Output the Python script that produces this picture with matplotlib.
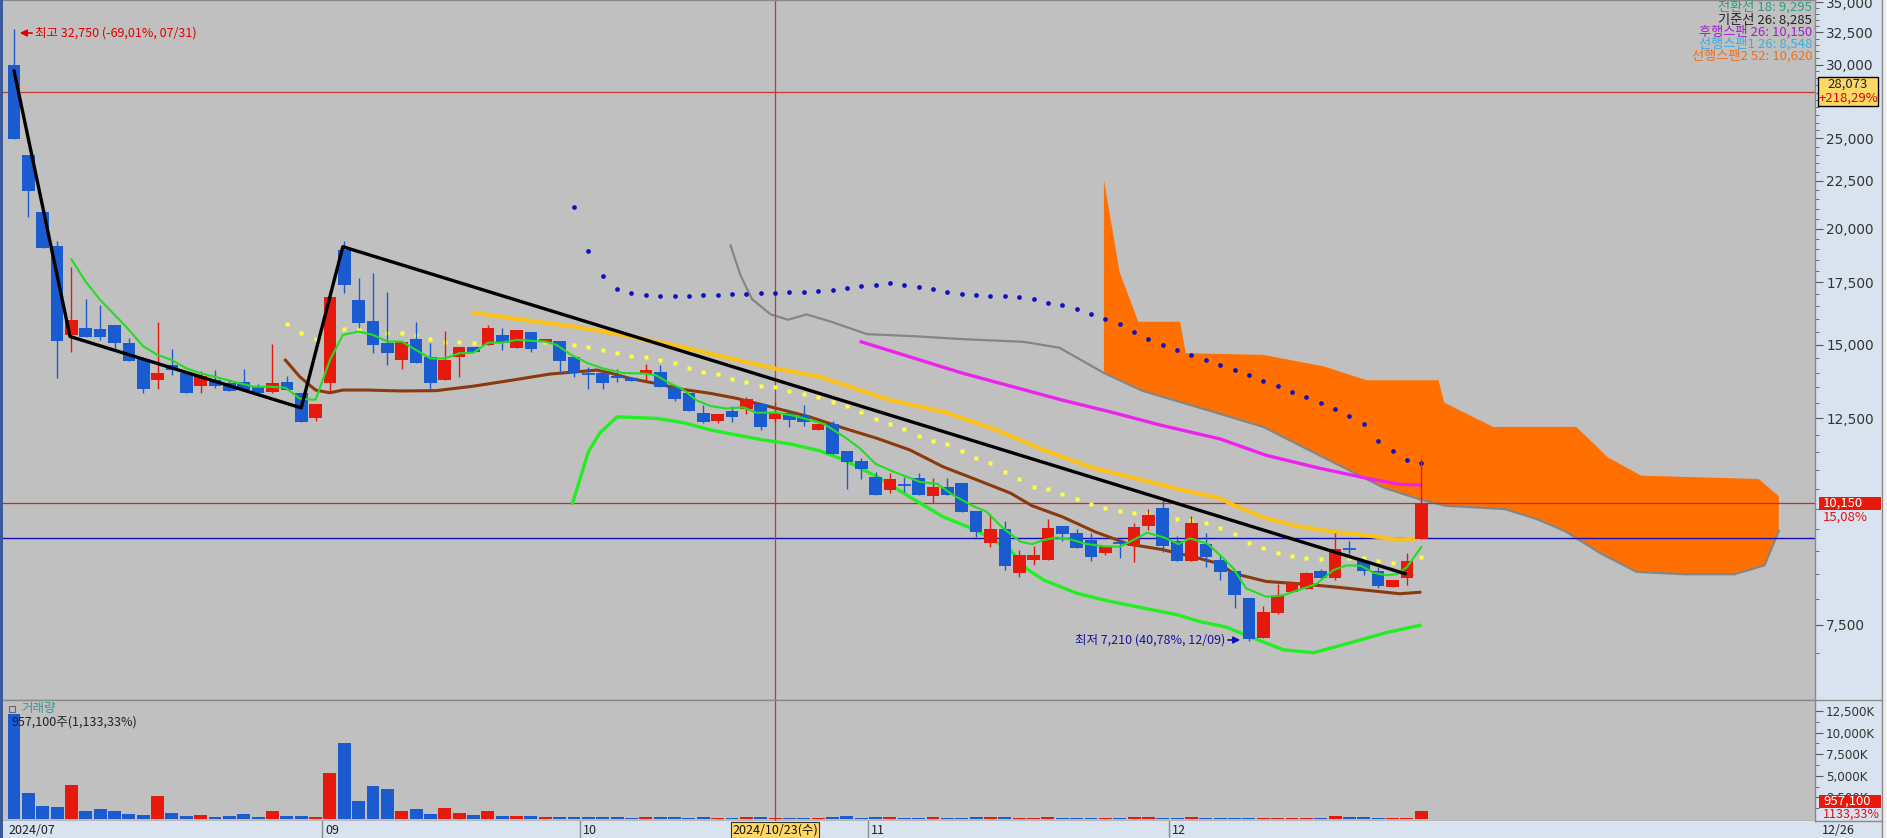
import matplotlib
matplotlib.use('Agg')
import matplotlib.pyplot as plt
from matplotlib.ticker import FixedLocator, FuncFormatter, NullFormatter
from matplotlib.patches import Rectangle
import numpy as np

plt.rcParams['font.family'] = ['Noto Sans CJK KR', 'DejaVu Sans']

# ---------------- data (daily candles 2024/07/31 .. 2024/12/26) ----------------
opens = [29970, 23990, 20840, 19150, 15370, 15630, 15600, 15750, 15070, 14480,
         13740, 14270, 13980, 13550, 13740, 13640, 13680, 13560, 13350, 13690,
         13300, 12520, 13630, 18960, 16760, 15910, 15070, 14450, 15200, 14540,
         13740, 14540, 14930, 14990, 15370, 14870, 15470, 15100, 15140, 14540,
         13950, 13990, 13890, 13820, 13950, 14030, 13500, 13320, 12660, 12430,
         12720, 12790, 12950, 12470, 12660, 12590, 12140, 12340, 11520, 11250,
         10820, 10470, 10610, 10800, 10320, 10550, 10660, 9940, 9190, 9510,
         8530, 8810, 8810, 9570, 9410, 9250, 8950, 9180, 9110, 9570,
         10010, 9220, 8790, 9170, 8810, 8570, 8010, 7260, 7730, 8140,
         8190, 8570, 8430, 9040, 8790, 8570, 8240, 8430, 9280]
highs = [32750, 23990, 20840, 19390, 18200, 16780, 16550, 15750, 15240, 14480,
         15880, 14850, 14050, 14050, 14090, 13740, 14130, 13600, 15030, 13880,
         13300, 12950, 16890, 19370, 17690, 17900, 17100, 15110, 15870, 15050,
         15520, 14930, 14930, 15750, 15630, 15550, 15470, 15210, 15140, 14540,
         14210, 14100, 14140, 13820, 14300, 14270, 13500, 13320, 12910, 12640,
         12880, 13190, 12950, 13010, 12770, 12910, 12340, 12430, 11520, 11330,
         10960, 10930, 10820, 10910, 10800, 10800, 10660, 9940, 9860, 9690,
         9030, 9120, 9750, 9570, 9500, 9410, 9110, 9250, 9640, 9990,
         10210, 9350, 9810, 9410, 8920, 8570, 8010, 7850, 8290, 8340,
         8550, 8620, 9410, 9220, 8790, 8650, 8390, 8960, 11320]
lows = [24960, 20590, 19070, 13810, 14740, 15300, 15170, 14810, 14420, 13320,
        13460, 13920, 13320, 13320, 13480, 13380, 13400, 13300, 13300, 13400,
        12400, 12430, 13300, 17040, 15630, 14680, 14270, 14130, 14350, 13440,
        13740, 13860, 14740, 14990, 14810, 14870, 14720, 15100, 13990, 13850,
        13460, 13460, 13690, 13720, 13740, 13510, 13060, 12740, 12350, 12350,
        12380, 12640, 12140, 12400, 12240, 12270, 12140, 11460, 10490, 10750,
        10330, 10390, 10420, 10350, 10140, 10350, 9920, 9310, 9100, 8600,
        8450, 8690, 8810, 9220, 9080, 8780, 8920, 8860, 8760, 9480,
        8990, 8790, 8790, 8660, 8390, 7810, 7210, 7260, 7700, 8140,
        8190, 8420, 8370, 8850, 8480, 8210, 8240, 8280, 9280]
closes = [24960, 21960, 19070, 15150, 15950, 15300, 15300, 15070, 14420, 13460,
          13990, 14090, 13320, 13880, 13550, 13380, 13400, 13300, 13650, 13400,
          12400, 12950, 16890, 17390, 15820, 14990, 14700, 15110, 14350, 13660,
          14450, 14930, 14740, 15650, 15050, 15550, 14830, 15210, 14420, 13990,
          13910, 13660, 13830, 13720, 14090, 13510, 13110, 12740, 12400, 12640,
          12530, 13100, 12240, 12660, 12450, 12400, 12340, 11460, 11230, 11030,
          10330, 10750, 10570, 10350, 10550, 10350, 9920, 9430, 9510, 8680,
          8920, 8920, 9530, 9400, 9080, 8870, 9110, 9160, 9550, 9840,
          9110, 8790, 9640, 8870, 8550, 8070, 7250, 7740, 8050, 8310,
          8530, 8420, 9040, 9020, 8570, 8260, 8390, 8790, 10150]
volumes_k = [12150, 3010, 1500, 1390, 3940, 930, 1160, 930, 580, 460,
             2660, 690, 350, 460, 230, 350, 580, 230, 930, 350,
             350, 230, 5320, 8800, 2080, 3820, 3470, 930, 1160, 580,
             1270, 690, 460, 930, 350, 350, 350, 230, 230, 230,
             230, 230, 230, 115, 230, 230, 230, 115, 230, 115,
             115, 230, 230, 115, 115, 115, 115, 230, 350, 115,
             230, 230, 80, 80, 190, 80, 80, 190, 190, 190,
             80, 80, 190, 80, 80, 80, 80, 80, 190, 190,
             150, 80, 190, 150, 150, 150, 80, 80, 80, 80,
             80, 80, 350, 190, 190, 80, 110, 160, 957]

# short moving average (green, thin)
ma5_x = [4, 5, 6, 7.8, 9, 10, 11, 12, 13, 15.3, 16.7, 17.8, 18.9, 19.9, 21, 22, 22.9, 24, 25, 26,
         27, 29, 30, 31, 32, 33, 34, 35, 36, 37, 37.8, 38.8, 40, 41, 42.4, 43.8, 44.7, 45.7, 46.6, 47.5,
         48.5, 49.6, 50.8, 51.7, 53.1, 54.5, 55.4, 56.4, 57.8, 58.9, 60, 61.1, 63.1, 64.3, 65.4, 66.8, 67.7, 68.9, 70.1, 70.9,
         71.7, 72.6, 73.5, 74.7, 75.9, 77, 77.7, 78.9, 80.1, 81.1, 81.9, 83.1, 84, 84.9, 85.8, 87.2, 88.4, 89.6, 90.7, 91.9,
         92.8, 93.8, 94.7, 95.6, 96.3, 97, 98]
ma5_v = [18530, 17530, 16760, 15690, 14940, 14630, 14440, 14150, 13980, 13690, 13520, 13520, 13490, 13130, 13090, 14440, 15370, 15500, 15370, 15120,
         15120, 14500, 14500, 14690, 14710, 15080, 15080, 15180, 15150, 15120, 14990, 14630, 14320, 14150, 13990, 13970, 13910, 13630, 13430, 13080,
         12890, 12810, 12850, 12680, 12680, 12570, 12450, 12330, 11950, 11610, 11170, 10980, 10680, 10630, 10340, 10060, 9930, 9520, 9210, 9160,
         9250, 9310, 9270, 9160, 9110, 9100, 9210, 9420, 9310, 9160, 9290, 9170, 8910, 8630, 8210, 8040, 8070, 8190, 8300, 8590,
         8690, 8680, 8530, 8480, 8500, 8650, 9090]

# 20-day average (brown)
ma20_x = [18.9, 19.9, 21, 22, 22.9, 24.6, 26.9, 29.4, 32, 34.8, 37.3, 39.2, 40.6, 41.5, 42.9, 44.7, 46.6, 48.5, 50.3, 52.2,
          54, 55.4, 57.8, 60.1, 62.4, 64.7, 67.1, 69.4, 70.9, 73, 75.3, 77.6, 79.9, 82.2, 84, 84.9, 87.2, 89.6, 91.9, 94.2,
          96.5, 97.9]
ma20_v = [14440, 13860, 13410, 13320, 13410, 13410, 13380, 13390, 13540, 13750, 13950, 14030, 14090, 13990, 13800, 13630, 13430, 13300, 13140, 12920,
          12710, 12550, 12200, 11900, 11560, 11090, 10730, 10390, 10070, 9800, 9440, 9160, 9040, 8870, 8720, 8520, 8350, 8300, 8240, 8170,
          8100, 8130]

# gold average
ma33_x = [32, 35.5, 39, 42.4, 45.9, 49.4, 52.9, 56.1, 61, 64.7, 68.4, 71.7, 75.2, 78.6, 81, 84, 84.9, 87.2, 89.6, 91.9, 94.2, 96.5, 97.9]
ma33_v = [16240, 15950, 15690, 15370, 14990, 14560, 14150, 13860, 13080, 12710, 12150, 11560, 11050, 10730, 10500, 10260, 10090, 9760, 9560, 9440, 9360, 9250, 9300]

# 60-day average (magenta)
ma60_x = [59, 66, 73, 76.3, 79.8, 84, 87.2, 90.7, 94.2, 96.5, 97.9]
ma60_v = [15110, 13990, 13080, 12710, 12300, 11880, 11410, 11070, 10780, 10620, 10600]

# lower band (bright green, thick)
low_x = [38.9, 40, 40.8, 42, 44.8, 46.6, 48.5, 50.3, 52.2, 54, 56.1, 57.8, 60.1, 62.4, 64.7, 67, 69.4, 70.5, 71.7, 74,
         76.3, 78.6, 81, 82.6, 84.4, 86.1, 88.4, 90.5, 93, 95.6, 97.9]
low_v = [10140, 11510, 12060, 12550, 12500, 12370, 12150, 12000, 11850, 11740, 11540, 11280, 10820, 10290, 9800, 9480, 9020, 8620, 8380, 8110,
         7950, 7820, 7690, 7560, 7460, 7280, 7050, 7000, 7170, 7360, 7490]

# blue dotted line (one dot per session, from 39)
bdot_x = list(range(39, 99))
bdot_v = [21100, 18940, 17800, 17210, 17040, 16960, 16920, 16920, 16920, 16960,
          16960, 17000, 17000, 17040, 17040, 17080, 17080, 17120, 17170, 17250,
          17330, 17410, 17460, 17370, 17290, 17210, 17080, 17000, 16960, 16920,
          16920, 16870, 16820, 16650, 16540, 16380, 16190, 16000, 15780, 15500,
          15230, 15010, 14800, 14620, 14450, 14280, 14100, 13920, 13720, 13550,
          13350, 13190, 12990, 12800, 12580, 12320, 11820, 11520, 11270, 11190]

# yellow dotted line (from 19)
ydot_x = list(range(19, 99))
ydot_v = [15780, 15460, 15220, 15400, 15590, 15590, 15530, 15460, 15460, 15370,
          15210, 15120, 15120, 15080, 15120, 15150, 15150, 15150, 15120, 15080,
          14990, 14910, 14810, 14690, 14590, 14570, 14440, 14350, 14170, 14030,
          13950, 13770, 13690, 13550, 13500, 13390, 13280, 13190, 13030, 12890,
          12710, 12470, 12320, 12170, 11980, 11830, 11730, 11540, 11340, 11190,
          10940, 10750, 10550, 10490, 10380, 10250, 10110, 10020, 9930, 9890,
          9890, 9790, 9740, 9720, 9640, 9540, 9400, 9190, 9060, 8960,
          8900, 8860, 8820, 8840, 8850, 8840, 8790, 8740, 8740, 8870]

# leading span 1 (gray) and leading span 2 (cloud top)
span1_x = [49.9, 50.6, 51.4, 52.7, 53.9, 55.2, 56.9, 59.4, 62.7, 66.1, 70.3, 72.8, 75.9, 78.6, 82.9, 87, 91.2, 95.4, 98,
           99.7, 103.8, 106, 108, 110.5, 113, 116.4, 119.8, 121.9, 122.9]
span1_v = [19180, 17800, 16790, 16170, 15960, 16170, 15880, 15400, 15320, 15210, 15110, 14890, 13990, 13380, 12790, 12240, 11350, 10530, 10220,
           10070, 9990, 9750, 9460, 8950, 8550, 8500, 8500, 8690, 9460]
span2_x = [75.9, 75.9, 77, 78.3, 81.2, 81.6, 87, 91.2, 94.2, 99.2, 99.6, 103, 108.8, 111, 113.3, 121.5, 122.9]
span2_v = [13990, 22560, 17940, 15880, 15880, 14690, 14630, 14220, 13740, 13740, 13000, 12240, 12240, 11350, 10850, 10760, 10310]

# trend lines
trend_x = [0, 3.9, 20, 22.9, 96.9]
trend_v = [29560, 15310, 12830, 19120, 8510]

cross_price = 28073
cur_price = 10150
conv_price = 9295
cross_idx = 53
month_idx = [0, 22, 40, 60, 81]
month_lbl = ['2024/07', '09', '10', '11', '12']
price_ticks = [7500, 12500, 15000, 17500, 20000, 22500, 25000, 30000, 32500, 35000]
vol_ticks = [2500, 5000, 7500, 10000, 12500]

# ---------------- figure ----------------
W, H = 1887, 838
fig = plt.figure(figsize=(W / 100, H / 100), dpi=100)
BG = '#c0c0c0'
AXBG = '#d8e3ef'
fig.patch.set_facecolor(AXBG)
RED = '#e61a0c'
BLUE = '#1a5bd0'
NUMF = 'DejaVu Sans'

def fr(x0, y0, x1, y1):
    return [x0 / W, 1 - y1 / H, (x1 - x0) / W, (y1 - y0) / H]

XL = (-0.766, 125.42)
ax = fig.add_axes(fr(3, 0, 1815, 700))
vax = fig.add_axes(fr(3, 700, 1815, 821))
dax = fig.add_axes(fr(3, 821, 1815, 838))

for a in (ax, vax):
    a.set_facecolor(BG)
    a.set_xlim(*XL)
    for s in a.spines.values():
        s.set_color('#8a8a8a')
        s.set_linewidth(1)
    a.spines['left'].set_visible(False)
    a.tick_params(axis='x', bottom=False, labelbottom=False)

# price panel
ax.set_yscale('log')
ax.set_ylim(6227, 35210)
ax.yaxis.set_major_locator(FixedLocator(price_ticks))
ax.yaxis.set_minor_locator(FixedLocator(list(range(7000, 35001, 500))))
ax.yaxis.set_major_formatter(FuncFormatter(lambda v, p: f'{v:,.0f}'))
ax.yaxis.set_minor_formatter(NullFormatter())
ax.tick_params(axis='y', which='both', left=False, labelleft=False, right=True, labelright=True,
               direction='out', colors='#555555', labelcolor='#333333', labelsize=9.8,
               labelfontfamily=NUMF)
ax.tick_params(axis='y', which='major', length=6, pad=2)
ax.tick_params(axis='y', which='minor', length=3)

# cloud
cx = span2_x + [x for x in span1_x if x >= 75.9][::-1]
cy = span2_v + [v for x, v in zip(span1_x, span1_v) if x >= 75.9][::-1]
ax.fill(cx, cy, color='#ff7000', lw=0, zorder=1)
ax.plot(span1_x, span1_v, color='#858585', lw=1.6, zorder=2)

# reference lines
ax.axhline(cross_price, color='#c03838', lw=0.9, zorder=2)
ax.axhline(cur_price, color='#d02828', lw=0.9, zorder=2)
ax.axhline(conv_price, color='#1010c0', lw=1.0, zorder=2)
ax.axvline(cross_idx, color='#c03838', lw=0.9, zorder=2)
vax.axvline(cross_idx, color='#c03838', lw=0.9, zorder=2)

# indicator lines
ax.plot(ma33_x, ma33_v, color='#f9c11a', lw=3.0, zorder=3, solid_capstyle='round')
ax.plot(ma60_x, ma60_v, color='#ee22ee', lw=2.4, zorder=3)
ax.plot(low_x, low_v, color='#22ee22', lw=2.4, zorder=3)
ax.plot(ma20_x, ma20_v, color='#8b3a0e', lw=2.2, zorder=4)
ax.plot(ydot_x, ydot_v, ls='none', marker='s', ms=2.2, color='#ffff3c', mec='none', zorder=4)
ax.plot(bdot_x, bdot_v, ls='none', marker='o', ms=3.4, color='#1010c0', mec='none', zorder=4)

# candles
idx = np.arange(len(closes))
for i in idx:
    o, h, l, c = opens[i], highs[i], lows[i], closes[i]
    col = RED if c >= o else BLUE
    ax.vlines(i, l, h, color=col, lw=1.0, zorder=5)
    if abs(c - o) / o < 0.004:
        ax.hlines(o, i - 0.44, i + 0.44, color=col, lw=1.3, zorder=5)
    else:
        ax.bar(i, abs(c - o), bottom=min(o, c), width=0.88, color=col, lw=0, zorder=5)

ax.plot(ma5_x, ma5_v, color='#22dd22', lw=1.5, zorder=6)
ax.plot(trend_x, trend_v, color='black', lw=2.4, zorder=7, solid_capstyle='round')

# volume panel
vcols = [RED if closes[i] >= opens[i] else BLUE for i in idx]
vax.bar(idx, volumes_k, width=0.9, color=vcols, lw=0, zorder=3)
vax.set_ylim(-230, 13770)
vax.yaxis.set_major_locator(FixedLocator(vol_ticks))
vax.yaxis.set_minor_locator(FixedLocator([1250, 3750, 6250, 8750, 11250]))
vax.yaxis.set_major_formatter(FuncFormatter(lambda v, p: f'{v:,.0f}K'))
vax.yaxis.set_minor_formatter(NullFormatter())
vax.tick_params(axis='y', which='both', left=False, labelleft=False, right=True, labelright=True,
                direction='out', colors='#555555', labelcolor='#333333', labelsize=8.6,
                labelfontfamily=NUMF)
vax.tick_params(axis='y', which='major', length=6, pad=2)
vax.tick_params(axis='y', which='minor', length=3)

# date axis
dax.set_facecolor(AXBG)
dax.set_xlim(*XL)
dax.set_ylim(0, 1)
dax.set_xticks([]); dax.set_yticks([])
for s in dax.spines.values():
    s.set_visible(False)
for m, lbl in zip(month_idx, month_lbl):
    if m > 0:
        dax.axvline(m - 0.55, color='#8a8a8a', lw=1)
    dax.text(m - 0.35, 0.45, lbl, fontsize=9, color='#222222', va='center', ha='left')

# crosshair date box
fig.text(775 / W, 1 - 830 / H, '2024/10/23(수)', fontsize=9, color='#111111', ha='center', va='center',
         bbox=dict(boxstyle='square,pad=0.12', fc='#ffd966', ec='#333333', lw=0.8))

# right axis extras
fig.add_artist(plt.Line2D([1882 / W, 1882 / W], [0, 1], transform=fig.transFigure, color='#8a8a8a', lw=1))
fig.add_artist(Rectangle((1883 / W, 0), 4 / W, 1, transform=fig.transFigure, fc='#f0f0f0', ec='none'))
fig.add_artist(plt.Line2D([1815 / W, 1882 / W], [1 - 821 / H, 1 - 821 / H], transform=fig.transFigure, color='#8a8a8a', lw=1))
fig.add_artist(plt.Line2D([1815 / W, 1882 / W], [1 - 700 / H, 1 - 700 / H], transform=fig.transFigure, color='#8a8a8a', lw=1))
fig.text(1822 / W, 1 - 830 / H, '12/26', fontsize=9, color='#222222', va='center', ha='left')

# left window strip
fig.add_artist(Rectangle((0, 0), 3 / W, 1, transform=fig.transFigure, fc='#3a5a9a', ec='none'))

# crosshair price box
fig.add_artist(Rectangle((1818 / W, 1 - 106 / H), 60 / W, 29 / H, transform=fig.transFigure,
                         fc='#ffd966', ec='black', lw=1))
fig.text(1848 / W, 1 - 84 / H, '28,073', fontsize=9.5, color='#222222', ha='center', va='center')
fig.text(1848 / W, 1 - 98 / H, '+218,29%', fontsize=9.5, color='#e00000', ha='center', va='center')

# current price box
fig.add_artist(Rectangle((1819 / W, 1 - 510 / H), 62 / W, 13 / H, transform=fig.transFigure,
                         fc='#e8180c', ec='none'))
fig.text(1823 / W, 1 - 503 / H, '10,150', fontsize=9.5, color='white', ha='left', va='center')
fig.text(1823 / W, 1 - 517 / H, '15,08%', fontsize=9.5, color='#e01010', ha='left', va='center')

# volume box
fig.add_artist(Rectangle((1819 / W, 1 - 808 / H), 62 / W, 13 / H, transform=fig.transFigure,
                         fc='#e8180c', ec='none'))
fig.text(1823 / W, 1 - 801.5 / H, '957,100', fontsize=9.5, color='white', ha='left', va='center')
fig.text(1823 / W, 1 - 814 / H, '1133,33%', fontsize=9, color='#e01010', ha='left', va='center')

# legend (top right)
def ftxt(x, y, s, c, ha='right', fs=9):
    fig.text(x / W, 1 - y / H, s, fontsize=fs, color=c, ha=ha, va='center')

ftxt(1812, 7, '전환선 18: 9,295', '#2e9b82', fs=9.5)
ftxt(1812, 20, '기준선 26: 8,285', '#222222', fs=9.5)
ftxt(1812, 32, '후행스팬 26: 10,150', '#a020c8', fs=9.5)
ftxt(1812, 44, '선행스팬1 26: 8,548', '#3aaee0', fs=9.5)
ftxt(1812, 56, '선행스팬2 52: 10,620', '#f07020', fs=9.5)

# top-left high annotation
ax.annotate('', xy=(17 / W, 1 - 33 / H), xytext=(35 / W, 1 - 33 / H), xycoords='figure fraction',
            textcoords='figure fraction',
            arrowprops=dict(arrowstyle='-|>', color='#e00000', lw=1.2, mutation_scale=10))
ftxt(35, 33, '최고 32,750 (-69,01%, 07/31)', '#e00000', ha='left')

# low annotation
ax.annotate('', xy=(1243 / W, 1 - 640 / H), xytext=(1225 / W, 1 - 640 / H), xycoords='figure fraction',
            textcoords='figure fraction',
            arrowprops=dict(arrowstyle='-|>', color='#1010b0', lw=1.2, mutation_scale=10))
ftxt(1075, 640, '최저 7,210 (40,78%, 12/09)', '#1414a0', ha='left')

# volume title
fig.add_artist(Rectangle((9 / W, 1 - 712 / H), 6 / W, 6 / H, transform=fig.transFigure,
                         fc='none', ec='#666666', lw=0.8))
ftxt(21, 708, '거래량', '#3a9a9a', ha='left')
ftxt(11, 722, '957,100주(1,133,33%)', '#222222', ha='left')

fig.savefig('out.png', dpi=100, facecolor=fig.get_facecolor())
